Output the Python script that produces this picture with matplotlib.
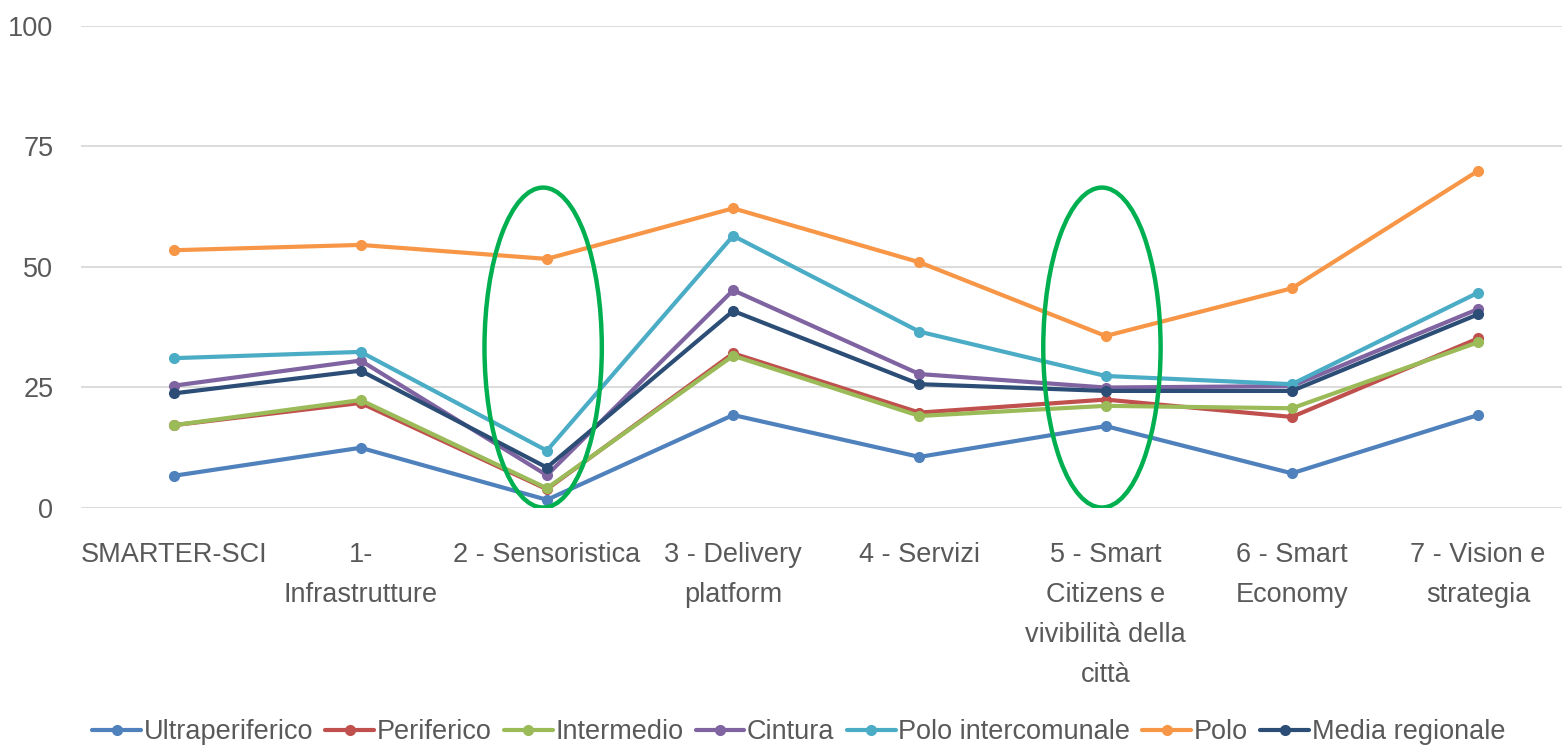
import matplotlib.pyplot as plt
from matplotlib.patches import Ellipse

plt.rcParams['font.family'] = ['Liberation Sans', 'DejaVu Sans']

categorie = ['SMARTER-SCI', '1-\nInfrastrutture', '2 - Sensoristica',
             '3 - Delivery\nplatform', '4 - Servizi',
             '5 - Smart\nCitizens e\nvivibilità della\ncittà',
             '6 - Smart\nEconomy', '7 - Vision e\nstrategia']

ultraperiferico = [6.6, 12.4, 1.6, 19.2, 10.5, 16.9, 7.1, 19.2]
periferico = [17.1, 21.7, 3.8, 32.0, 19.7, 22.4, 18.8, 35.1]
intermedio = [17.1, 22.3, 4.0, 31.5, 19.0, 21.1, 20.6, 34.3]
cintura = [25.3, 30.5, 6.7, 45.1, 27.7, 24.9, 25.2, 41.2]
polo_intercomunale = [31.0, 32.3, 11.8, 56.4, 36.5, 27.3, 25.6, 44.6]
polo = [53.4, 54.5, 51.6, 62.1, 50.9, 35.6, 45.5, 69.9]
media_regionale = [23.7, 28.4, 8.3, 40.8, 25.6, 24.2, 24.2, 40.1]

serie = [
    ('Ultraperiferico', ultraperiferico, '#4F81BD'),
    ('Periferico', periferico, '#C0504D'),
    ('Intermedio', intermedio, '#9BBB59'),
    ('Cintura', cintura, '#8064A2'),
    ('Polo intercomunale', polo_intercomunale, '#4BACC6'),
    ('Polo', polo, '#F79646'),
    ('Media regionale', media_regionale, '#2C4D75'),
]

# categorie evidenziate con l'ellisse verde
evidenziate = [2, 5]

testo = '#595959'
fs = 19.5

fig = plt.figure(figsize=(15.62, 7.47), dpi=100)
ax = fig.add_axes([0.052, 0.3206, 0.948, 0.645])

x = list(range(len(categorie)))
for nome, valori, colore in serie:
    ax.plot(x, valori, color=colore, lw=3, marker='o', markersize=7,
            label=nome, solid_capstyle='round', solid_joinstyle='round')

for i in evidenziate:
    ax.add_patch(Ellipse((i - 0.02, 33.2), 0.63, 66.4, fill=False,
                         edgecolor='#00B050', lw=3.2, zorder=5))

ax.set_xlim(-0.5, 7.45)
ax.set_ylim(0, 100)
ax.set_yticks([0, 25, 50, 75, 100])
ax.set_xticks(x)
ax.set_xticklabels(categorie, linespacing=1.7)
ax.grid(axis='y', color='#D9D9D9', lw=1.3)
ax.set_axisbelow(True)
for s in ax.spines.values():
    s.set_visible(False)
ax.tick_params(axis='both', length=0, labelsize=fs, colors=testo)
ax.tick_params(axis='x', pad=25)
ax.tick_params(axis='y', pad=20)

leg = ax.legend(loc='center', bbox_to_anchor=(0.4845, -0.466), ncol=7,
                frameon=False, fontsize=fs, handlelength=1.8,
                handletextpad=0.1, columnspacing=0.45, labelcolor=testo)

fig.savefig('out.png', dpi=100)
